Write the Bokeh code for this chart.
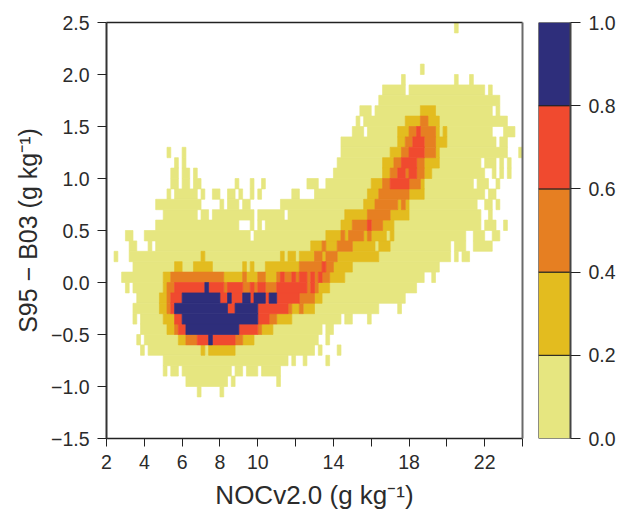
from bokeh.embed import file_html
from bokeh.layouts import row
from bokeh.models import FixedTicker, LinearAxis, Range1d
from bokeh.plotting import figure
from bokeh.resources import INLINE

# Binned fraction classes: (row, first column, stop column).
# Row 0 is the top bin of S95-B03 (0.1 g/kg bins), column 0 the left bin of NOCv2.0 (0.2 g/kg bins).
class_0_2 = [
    (0,92,93),(4,83,84),(5,78,79),(5,92,93),(5,96,97),
    (6,73,79),(6,80,100),(6,101,102),(7,72,104),
    (8,67,70),(8,71,83),(8,87,102),(8,103,104),
    (9,66,67),(9,68,79),(9,88,106),
    (10,65,68),(10,69,77),(10,88,89),(10,90,102),(10,105,108),
    (11,62,77),(11,90,103),(11,104,106),
    (12,16,17),(12,20,21),(12,62,75),(12,88,106),(12,109,110),
    (13,18,19),(13,20,21),(13,61,73),(13,88,99),(13,100,103),(13,104,105),(13,106,107),
    (14,17,19),(14,20,22),(14,23,24),(14,60,73),(14,86,100),(14,102,103),(14,104,105),(14,106,107),
    (15,17,19),(15,20,22),(15,23,25),(15,34,35),(15,38,39),(15,41,42),(15,53,56),(15,58,70),(15,84,97),(15,98,101),(15,103,104),
    (16,16,17),(16,18,24),(16,25,26),(16,28,30),(16,32,34),(16,35,36),(16,38,39),(16,40,41),(16,49,51),(16,55,69),(16,84,100),(16,101,103),
    (17,13,25),(17,30,31),(17,32,35),(17,36,38),(17,46,68),(17,80,98),(17,100,102),(17,103,104),
    (18,15,24),(18,25,27),(18,28,39),(18,40,47),(18,48,63),(18,80,99),(18,101,102),
    (19,13,35),(19,38,39),(19,40,41),(19,42,62),(19,76,99),(19,100,103),(19,105,106),
    (20,5,7),(20,10,38),(20,39,58),(20,74,75),(20,76,95),(20,97,100),(20,102,104),
    (21,6,8),(21,11,12),(21,13,54),(21,71,72),(21,75,91),(21,92,95),(21,97,102),
    (22,2,3),(22,6,25),(22,26,46),(22,47,48),(22,50,51),(22,72,91),(22,92,93),(22,94,96),
    (23,7,18),(23,20,23),(23,28,36),(23,37,38),(23,39,42),(23,65,88),
    (24,4,15),(24,63,84),(24,86,87),
    (25,5,6),(25,7,15),(25,59,82),
    (26,8,14),(26,57,79),
    (27,7,14),(27,55,72),(27,77,78),
    (28,7,8),(28,9,15),(28,49,62),(28,63,65),(28,69,70),
    (29,9,16),(29,44,57),(29,58,60),
    (30,8,9),(30,10,19),(30,39,56),(30,58,59),
    (31,9,10),(31,11,25),(31,26,27),(31,34,55),(31,56,57),(31,61,62),
    (32,15,48),(32,49,50),(32,52,53),(32,58,59),
    (33,15,16),(33,17,19),(33,20,33),(33,34,36),(33,37,40),(33,41,46),
    (34,21,32),(34,33,34),(34,45,46),
    (35,24,25),(35,30,31),
]
class_2_4 = [
    (8,83,87),(9,79,83),(9,85,88),(10,77,80),(10,87,88),(10,89,90),(11,77,79),(11,87,90),
    (12,75,78),(12,87,88),(13,73,76),(13,84,88),(14,73,75),(14,84,86),(15,70,73),(15,83,84),
    (16,69,72),(16,80,84),(17,68,71),(17,77,78),(17,79,80),(18,63,69),(18,75,80),
    (19,62,65),(19,73,76),(20,58,62),(20,63,64),(20,68,69),(20,70,74),(20,75,76),
    (21,54,57),(21,58,61),(21,65,71),(21,72,75),
    (22,25,26),(22,46,47),(22,48,50),(22,51,55),(22,57,58),(22,61,72),
    (23,18,20),(23,23,28),(23,36,37),(23,38,39),(23,42,51),(23,60,65),
    (24,15,17),(24,31,36),(24,37,40),(24,42,45),(24,59,63),
    (25,15,16),(25,56,59),(26,14,16),(26,55,57),(27,14,16),(27,49,51),(27,52,55),
    (28,15,18),(28,45,49),(29,16,18),(29,41,44),(30,19,21),(30,36,39),
    (31,25,26),(31,27,34),
]
class_4_6 = [
    (9,83,85),(10,80,82),(10,83,87),(11,79,81),(11,84,87),(12,78,80),(12,84,87),
    (13,76,78),(13,82,84),(14,75,77),(14,79,80),(14,82,84),(15,73,75),(15,80,83),
    (16,72,80),(17,71,77),(17,78,79),(18,69,75),(19,65,69),(19,70,73),
    (20,62,63),(20,64,68),(20,69,70),(21,57,58),(21,61,65),(22,55,57),(22,58,61),
    (23,51,57),(23,58,60),
    (24,17,31),(24,36,37),(24,40,42),(24,45,46),(24,47,49),(24,50,51),(24,53,54),(24,55,56),(24,57,59),
    (25,16,18),(25,31,32),(25,36,38),(25,39,40),(25,42,45),(25,53,54),(25,55,56),
    (26,16,17),(26,51,55),(27,16,17),(27,48,49),(27,51,52),(28,43,45),
    (29,18,19),(29,40,41),(30,21,24),(30,34,36),
]
class_6_8 = [
    (10,82,83),(11,81,84),(12,80,84),(13,78,82),(14,77,79),(14,80,82),(15,75,80),(19,69,70),
    (23,57,58),(24,46,47),(24,49,50),(24,51,53),(24,54,55),(24,56,57),
    (25,18,26),(25,27,31),(25,32,36),(25,38,39),(25,40,42),(25,45,53),(25,54,55),
    (26,17,20),(26,30,32),(26,33,36),(26,38,39),(26,42,43),(26,45,51),
    (27,17,18),(27,32,34),(27,40,48),(28,18,20),(28,40,43),(29,19,21),(29,35,40),
    (30,24,27),(30,28,34),
]
class_8_10 = [
    (25,26,27),(26,20,30),(26,32,33),(26,36,38),(26,39,42),(26,43,45),
    (27,18,32),(27,34,40),(28,20,40),(29,21,35),(30,27,28),
]
class_bins = [class_0_2, class_2_4, class_4_6, class_6_8, class_8_10]
class_colors = ["#E6E680", "#E3BC1F", "#E67F22", "#F04A2F", "#2E2E7B"]
class_edges = [0.0, 0.2, 0.4, 0.6, 0.8, 1.0]

x_ticks = [2, 4, 6, 8, 10, 12, 14, 16, 18, 20, 22, 24]
x_labels = ["2", "4", "6", "8", "10", "", "14", "", "18", "", "22", ""]
y_ticks = [-1.5, -1.0, -0.5, 0.0, 0.5, 1.0, 1.5, 2.0, 2.5]
y_labels = ["\u22121.5", "\u22121.0", "\u22120.5", "0.0", "0.5", "1.0", "1.5", "2.0", "2.5"]
cb_ticks = [0.0, 0.2, 0.4, 0.6, 0.8, 1.0]
cb_labels = ["0.0", "0.2", "0.4", "0.6", "0.8", "1.0"]

FONT = "Liberation Sans"
TEXT = "#2b2b2b"

p = figure(frame_width=416, frame_height=416, width=530, height=510,
           x_range=Range1d(2, 24), y_range=Range1d(-1.5, 2.5),
           output_backend="svg", toolbar_location=None,
           min_border_left=106, min_border_right=8, min_border_top=22, min_border_bottom=10)
p.grid.visible = False
p.outline_line_color = None
p.background_fill_color = "white"

for bins, color in zip(class_bins, class_colors):
    p.quad(left=[2 + 0.2 * b[1] for b in bins], right=[2 + 0.2 * b[2] for b in bins],
           top=[2.5 - 0.1 * b[0] for b in bins], bottom=[2.4 - 0.1 * b[0] for b in bins],
           fill_color=color, line_color=color, line_width=0.7)

xa = p.xaxis[0]
xa.ticker = FixedTicker(ticks=x_ticks)
xa.major_label_overrides = dict(zip(x_ticks, x_labels))
xa.axis_label = "NOCv2.0 (g kg\u207b\u00b9)"
ya = p.yaxis[0]
ya.ticker = FixedTicker(ticks=y_ticks)
ya.major_label_overrides = dict(zip(y_ticks, y_labels))
ya.axis_label = "S95 \u2212 B03 (g kg\u207b\u00b9)"
for a in (xa, ya):
    a.minor_tick_line_color = None
    a.major_tick_in = 0
    a.major_tick_line_color = "#222222"
    a.major_tick_line_width = 1
    a.major_label_text_font = FONT
    a.major_label_text_font_size = "19.5px"
    a.major_label_text_color = TEXT
    a.axis_label_text_font = FONT
    a.axis_label_text_font_style = "normal"
    a.axis_label_text_color = TEXT
xa.axis_label_text_font_size = "26px"
ya.axis_label_text_font_size = "25px"
xa.major_tick_out = 8
ya.major_tick_out = 9
xa.major_label_standoff = 8
ya.major_label_standoff = 8
xa.axis_label_standoff = 8
ya.axis_label_standoff = 6
xa.axis_line_color = "#222222"
xa.axis_line_width = 1.5
ya.axis_line_color = "#333333"
ya.axis_line_width = 2

top_axis = LinearAxis(ticker=FixedTicker(ticks=[]), major_label_text_font_size="0px",
                      axis_line_color="#222222", axis_line_width=1.5)
right_axis = LinearAxis(ticker=FixedTicker(ticks=[]), major_label_text_font_size="0px",
                        axis_line_color="#6a6a6a", axis_line_width=2)
p.add_layout(top_axis, "above")
p.add_layout(right_axis, "right")

cb = figure(frame_width=32, frame_height=416, width=97, height=510,
            x_range=Range1d(0, 1), y_range=Range1d(0, 1),
            output_backend="svg", toolbar_location=None, y_axis_location="right",
            min_border_left=8, min_border_right=57, min_border_top=22, min_border_bottom=72)
cb.grid.visible = False
cb.xaxis.visible = False
cb.outline_line_color = None
cb.quad(left=[0] * 5, right=[1] * 5, bottom=class_edges[:-1], top=class_edges[1:],
        fill_color=class_colors, line_color="#222222", line_width=1)
ca = cb.yaxis[0]
ca.ticker = FixedTicker(ticks=cb_ticks)
ca.major_label_overrides = dict(zip(cb_ticks, cb_labels))
ca.minor_tick_line_color = None
ca.major_tick_in = 0
ca.major_tick_out = 10
ca.major_tick_line_color = "#222222"
ca.major_label_standoff = 8
ca.major_label_text_font = FONT
ca.major_label_text_font_size = "19.5px"
ca.major_label_text_color = TEXT
ca.axis_line_color = "#444444"
ca.axis_line_width = 2

layout = row(p, cb, spacing=0)
open("out.html", "w").write(file_html(layout, INLINE))
